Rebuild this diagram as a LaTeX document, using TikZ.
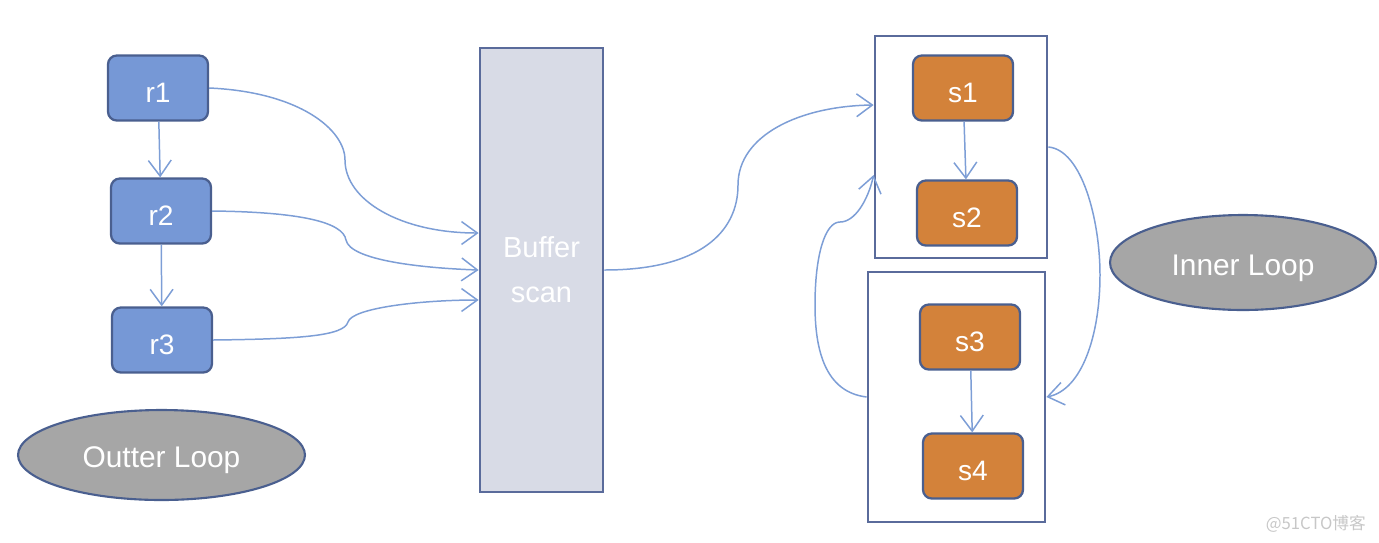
\documentclass[tikz,border=0pt]{standalone}
\usepackage{fontspec}
\setmainfont{Liberation Sans}
\newfontfamily\cjk{Noto Sans CJK SC}
\usetikzlibrary{arrows.meta, shapes.geometric}

\definecolor{rblue}{HTML}{7698D6}
\definecolor{sorange}{HTML}{D3823A}
\definecolor{edge}{HTML}{4A5F8F}
\definecolor{frameblue}{HTML}{5A6B9B}
\definecolor{arrowblue}{HTML}{7D9ED6}
\definecolor{buffill}{HTML}{D8DBE6}
\definecolor{loopgray}{HTML}{A6A6A6}

\begin{document}
\begin{tikzpicture}[
  x=0.02cm, y=-0.02cm,
  rnode/.style={draw=edge, line width=1.3pt, fill=rblue, rounded corners=5pt,
    minimum width=2cm, minimum height=1.3cm, text=white,
    text height=17pt, text depth=0pt,
    font=\fontsize{16}{18}\selectfont},
  snode/.style={rnode, fill=sorange},
  frame/.style={draw=frameblue, line width=1.6pt, inner sep=0pt},
  loopnode/.style={ellipse, draw=edge, line width=1.2pt, fill=loopgray,
    text=white, inner sep=0pt, text height=14.4pt, text depth=0pt,
    font=\fontsize{17}{20}\selectfont},
  arr/.style={draw=arrowblue, line width=0.85pt,
    -{Straight Barb[length=9pt, width=13pt]}},
]
  \useasboundingbox (0,0) rectangle (1379,542);

  % outer relation
  \node[rnode] (r1) at (158,88)  {r1};
  \node[rnode] (r2) at (161,211) {r2};
  \node[rnode] (r3) at (162,340) {r3};
  \node[loopnode, minimum width=5.74cm, minimum height=1.8cm] (outer) at (161.5,455) {Outter Loop};

  % buffer
  \node[draw=frameblue, line width=1.6pt, fill=buffill, minimum width=2.46cm,
    minimum height=8.88cm, text=white, align=center,
    font=\fontsize{16.5}{25.5}\selectfont] (buf) at (541.5,270) {Buffer\\scan};

  % inner relation
  \node[frame, minimum width=3.44cm, minimum height=4.44cm] (sbox1) at (961,147) {};
  \node[frame, minimum width=3.54cm, minimum height=5cm] (sbox2) at (956.5,397) {};
  \node[snode] (s1) at (963,88)  {s1};
  \node[snode] (s2) at (967,213) {s2};
  \node[snode] (s3) at (970,337) {s3};
  \node[snode] (s4) at (973,466) {s4};
  \node[loopnode, minimum width=5.32cm, minimum height=1.9cm] (inner) at (1243,262.5) {Inner Loop};

  \coordinate (in1) at ([yshift=0.74cm]buf.west);
  \coordinate (in3) at ([yshift=-0.6cm]buf.west);
  \coordinate (top) at ([yshift=0.84cm]sbox1.west);
  \coordinate (back) at ([yshift=-0.56cm]sbox1.west);

  \draw[arr] (r1) -- (r2);
  \draw[arr] (r2) -- (r3);
  \draw[arr] (s1) -- (s2);
  \draw[arr] (s3) -- (s4);

  \draw[arr] (r1.east) .. controls (300,92) and (345,130) .. (345,160)
    .. controls (345,200) and (400,233) .. (in1);
  \draw[arr] (r2.east) .. controls (300,212) and (343,222) .. (346,240)
    .. controls (350,260) and (420,268) .. (buf.west);
  \draw[arr] (r3.east) .. controls (300,339) and (344,336) .. (348,322)
    .. controls (352,308) and (420,300) .. (in3);

  \draw[arr] (buf.east) .. controls (700,270) and (738,232) .. (738,185)
    .. controls (738,135) and (800,106) .. (top);

  \draw[arr] (sbox2.west) .. controls (825,392) and (815,350) .. (815,305)
    .. controls (815,255) and (825,222) .. (840,222)
    .. controls (855,222) and (868,200) .. (back);
  \draw[arr] (sbox1.east) .. controls (1082,150) and (1100,220) .. (1100,275)
    .. controls (1100,335) and (1082,390) .. (sbox2.east);

  \node[text=black!22, font=\cjk\fontsize{9.5}{11}\selectfont, anchor=east] (mark) at (1372,524) {@51CTO博客};
\end{tikzpicture}
\end{document}
